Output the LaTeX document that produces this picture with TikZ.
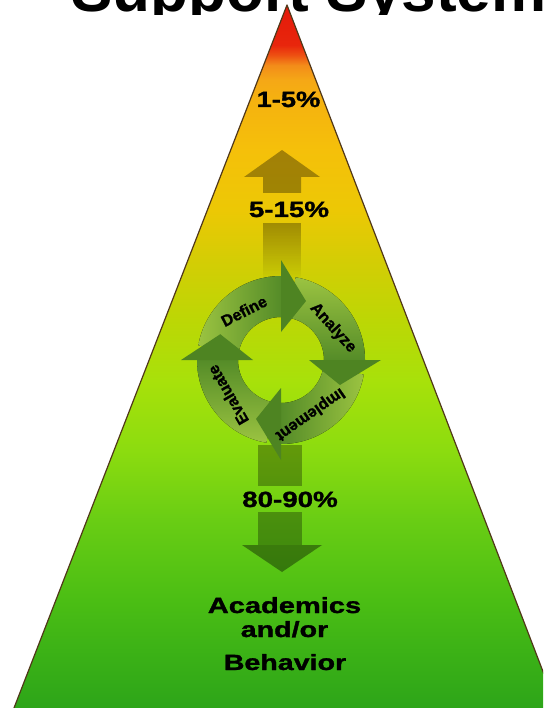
\documentclass[tikz,border=0pt]{standalone}
\usepackage{fontspec}
\usepackage{graphicx}
\usetikzlibrary{fadings}
\newfontfamily\titlefont{Liberation Sans}
\newfontfamily\heavyfont[FakeBold=1.2]{Liberation Sans}

\definecolor{s708}{RGB}{45,165,25}
\definecolor{s650}{RGB}{60,178,22}
\definecolor{s600}{RGB}{75,190,20}
\definecolor{s520}{RGB}{105,205,20}
\definecolor{s450}{RGB}{140,220,15}
\definecolor{s380}{RGB}{168,225,10}
\definecolor{s320}{RGB}{188,215,5}
\definecolor{s260}{RGB}{212,205,5}
\definecolor{s210}{RGB}{236,200,5}
\definecolor{s150}{RGB}{245,192,10}
\definecolor{s100}{RGB}{245,178,15}
\definecolor{s080}{RGB}{245,168,22}
\definecolor{s065}{RGB}{243,140,25}
\definecolor{s055}{RGB}{238,80,18}
\definecolor{s045}{RGB}{232,38,12}
\definecolor{s005}{RGB}{228,25,10}
\definecolor{edgecol}{RGB}{80,55,25}
\definecolor{ringlight}{RGB}{155,195,65}
\definecolor{ringdark}{RGB}{85,140,40}
\definecolor{headcol}{RGB}{78,132,34}

% position p(y) = 25 + (708-y)*50/703
\pgfdeclareverticalshading{pyrshade}{100bp}{%
color(0bp)=(s708); color(25bp)=(s708); color(29.12bp)=(s650);
color(32.68bp)=(s600); color(38.37bp)=(s520); color(43.35bp)=(s450);
color(48.32bp)=(s380); color(52.59bp)=(s320); color(56.86bp)=(s260);
color(60.42bp)=(s210); color(64.69bp)=(s150); color(68.23bp)=(s100);
color(69.65bp)=(s080); color(70.72bp)=(s065); color(71.44bp)=(s055);
color(72.15bp)=(s045); color(75bp)=(s005); color(100bp)=(s005)}

\tikzset{
  edge/.style={draw=edgecol, line width=1.2pt, line join=round},
  pct/.style={font=\heavyfont\bfseries\fontsize{22}{22}\selectfont, inner sep=0pt, anchor=base},
  basetext/.style={font=\heavyfont\bfseries\fontsize{22}{22}\selectfont, inner sep=0pt, anchor=base},
  ringlbl/.style={font=\heavyfont\bfseries\fontsize{16}{16}\selectfont, inner sep=0pt},
  uparrowcol/.style={fill=black, opacity=0.33},
  upshaft/.style={fill=black, fill opacity=0.3, path fading=south},
  dnshaft/.style={fill=black, opacity=0.3},
  dnhead/.style={fill=black, opacity=0.38},
  headfill/.style={fill=headcol}
}

\begin{document}
\begin{tikzpicture}[x=1pt,y=-1pt]
\useasboundingbox (0,0) rectangle (543,708);
\clip (0,0) rectangle (543,708);

% title (lower part hidden by the white panel below it)
\node[anchor=base west, inner sep=0pt, font=\titlefont\bfseries\fontsize{62}{62}\selectfont] (title) at (71,12) {Support System};
\fill[white] (0,15) rectangle (543,708);

% pyramid
\coordinate (apex) at (287,5);
\coordinate (br) at (557,708);
\coordinate (bl) at (14,708);
\shade[shading=pyrshade] (apex) -- (br) -- (bl) -- cycle;
\draw[edge] (bl) -- (apex) -- (br);

% up arrow
\fill[uparrowcol] (282,150) -- (320,177) -- (301,177) -- (301,193) -- (263,193) -- (263,177) -- (244,177) -- cycle;
\fill[upshaft] (263,223) rectangle (301,280);

% down arrow
\fill[dnshaft] (258,445) rectangle (302,486);
\fill[dnshaft] (258,512) rectangle (302,545);
\fill[dnhead] (242,545) -- (322,545) -- (282,572) -- cycle;

% cycle ring
\begin{scope}[shift={(281,360)}, y=1pt]
  % bodies
  \fill[left color=ringlight, right color=ringdark] (170:84) arc[start angle=170,end angle=90,radius=84] -- (90:43) arc[start angle=90,end angle=170,radius=43] -- cycle;
  \fill[top color=ringlight, bottom color=ringdark] (80:84) arc[start angle=80,end angle=0,radius=84] -- (0:43) arc[start angle=0,end angle=80,radius=43] -- cycle;
  \fill[left color=ringdark, right color=ringlight] (-10:84) arc[start angle=-10,end angle=-90,radius=84] -- (-90:43) arc[start angle=-90,end angle=-10,radius=43] -- cycle;
  \fill[top color=ringdark, bottom color=ringlight] (-100:84) arc[start angle=-100,end angle=-180,radius=84] -- (180:43) arc[start angle=180,end angle=260,radius=43] -- cycle;
  % heads
  \fill[headfill] (90:100) -- (67:64) -- (90:28) -- cycle;
  \fill[headfill] (0:100) -- (-23:64) -- (0:28) -- cycle;
  \fill[headfill] (-90:100) -- (-113:64) -- (-90:28) -- cycle;
  \fill[headfill] (180:100) -- (157:66) -- (180:28) -- cycle;
\end{scope}

% ring labels
\node[ringlbl, rotate=27] (define) at (244,311) {Define};
\node[ringlbl, rotate=-48] (analyze) at (333,328) {Analyze};
\node[ringlbl, rotate=-145] (implement) at (310,414) {Implement};
\node[ringlbl, rotate=120] (evaluate) at (228,395) {Evaluate};

% percentages
\node[pct] (p1) at (288.5,107) {\scalebox{1.24}[1]{1-5\%}};
\node[pct] (p2) at (289,217) {\scalebox{1.26}[1]{5-15\%}};
\node[pct] (p3) at (290,507) {\scalebox{1.26}[1]{80-90\%}};

% base text
\node[basetext] (acad) at (284.5,613) {\scalebox{1.32}[1]{Academics}};
\node[basetext] (andor) at (284.5,637) {\scalebox{1.3}[1]{and/or}};
\node[basetext] (behav) at (285,670) {\scalebox{1.3}[1]{Behavior}};
\end{tikzpicture}
\end{document}
